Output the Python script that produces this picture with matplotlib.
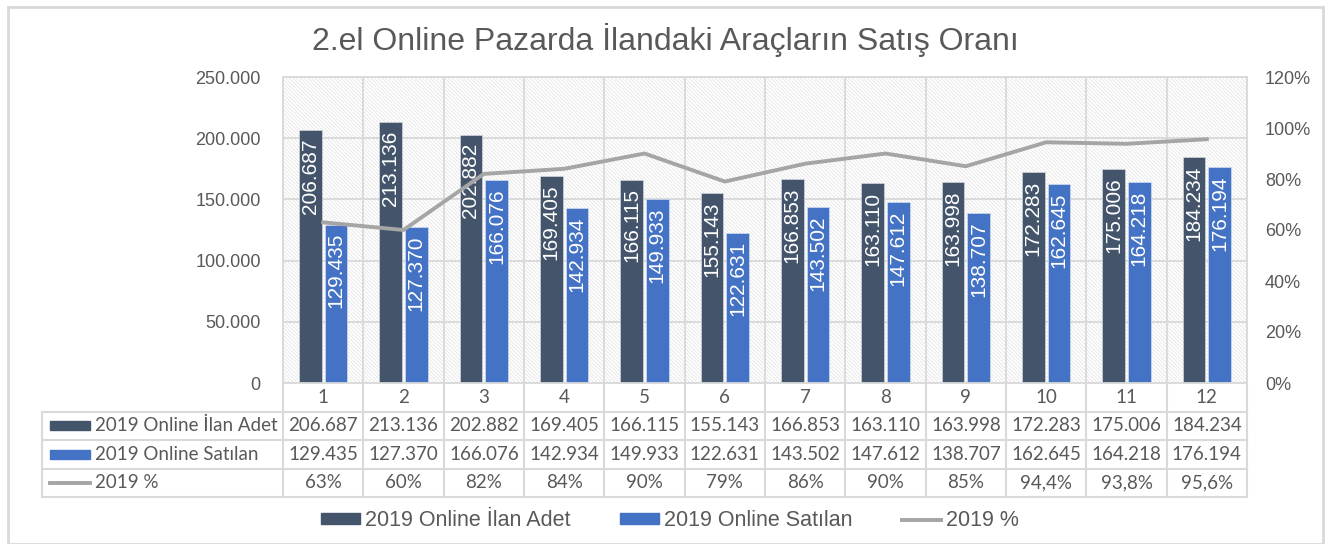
import matplotlib
matplotlib.use("Agg")
import matplotlib.pyplot as plt
from matplotlib.patches import Rectangle, Patch
from matplotlib.lines import Line2D

# ---- data ----
months = ["1", "2", "3", "4", "5", "6", "7", "8", "9", "10", "11", "12"]
ilan_adet = [206687, 213136, 202882, 169405, 166115, 155143, 166853, 163110, 163998, 172283, 175006, 184234]
satilan = [129435, 127370, 166076, 142934, 149933, 122631, 143502, 147612, 138707, 162645, 164218, 176194]
oran = [63, 60, 82, 84, 90, 79, 86, 90, 85, 94.4, 93.8, 95.6]
series_names = ["2019 Online İlan Adet", "2019 Online Satılan", "2019 %"]
title = "2.el Online Pazarda İlandaki Araçların Satış Oranı"
left_ticks = [0, 50000, 100000, 150000, 200000, 250000]
right_ticks = [0, 20, 40, 60, 80, 100, 120]

C_DARK = "#44546A"
C_BLUE = "#4472C4"
C_LINE = "#A5A5A5"
C_TEXT = "#595959"
C_GRID = "#D9D9D9"

plt.rcParams["font.family"] = ["Liberation Sans", "DejaVu Sans"]
plt.rcParams["hatch.color"] = "#E0E0E0"
plt.rcParams["hatch.linewidth"] = 0.5

W, H = 1327, 544
fig = plt.figure(figsize=(W / 100, H / 100), dpi=100)

# outer frame
fig.patches.append(Rectangle((8 / W, 0), (1323 - 8) / W, 1 - 7 / H, transform=fig.transFigure,
                             fill=False, edgecolor=C_GRID, lw=2))


def fmt_num(v):
    return f"{v:,.0f}".replace(",", ".")


def fmt_pct(v):
    if float(v).is_integer():
        return f"{int(v)}%"
    return f"{v:.1f}".replace(".", ",") + "%"


x0, x1, ytop, ybot = 283, 1247, 77, 383
ax = fig.add_axes([x0 / W, 1 - ybot / H, (x1 - x0) / W, (ybot - ytop) / H])
n = len(months)
xs = list(range(n))
ax.set_xlim(-0.5, n - 0.5)
ax.set_ylim(0, 250000)

# hatched background
bg = Rectangle((0, 0), 1, 1, transform=ax.transAxes, facecolor="white", edgecolor="#E0E0E0",
               hatch="\\" * 9, lw=0, zorder=0)
ax.add_patch(bg)
ax.patch.set_visible(False)

for y in left_ticks[1:]:
    ax.axhline(y, color=C_GRID, lw=1.3, zorder=1)
for b in range(n + 1):
    ax.axvline(b - 0.5, color=C_GRID, lw=1.3, zorder=1)

bw = 0.28
off = 0.16
ax.bar([x - off for x in xs], ilan_adet, width=bw, color=C_DARK, edgecolor="#DDE2EA", lw=0.4, zorder=2)
ax.bar([x + off for x in xs], satilan, width=bw, color=C_BLUE, edgecolor="#DDE6F5", lw=0.4, zorder=2)

for x, v in zip(xs, ilan_adet):
    ax.annotate(fmt_num(v), (x - off, v), xytext=(0, -6), textcoords="offset points",
                rotation=90, ha="center", va="top", color="white", fontsize=15, zorder=3)
for x, v in zip(xs, satilan):
    ax.annotate(fmt_num(v), (x + off, v), xytext=(0, -6), textcoords="offset points",
                rotation=90, ha="center", va="top", color="white", fontsize=15, zorder=3)

ax.set_xticks([])
ax.set_yticks(left_ticks)
ax.set_yticklabels([fmt_num(v) for v in left_ticks])
ax.tick_params(axis="y", length=0, pad=16, labelsize=13, labelcolor=C_TEXT)
for s in ax.spines.values():
    s.set_color(C_GRID)
    s.set_linewidth(1.3)

ax2 = ax.twinx()
ax2.set_ylim(0, 120)
ax2.plot(xs, oran, color=C_LINE, lw=2.8, zorder=4, solid_joinstyle="round")
ax2.set_yticks(right_ticks)
ax2.set_yticklabels([f"{v}%" for v in right_ticks])
ax2.tick_params(axis="y", length=0, pad=13, labelsize=13, labelcolor=C_TEXT)
for s in ax2.spines.values():
    s.set_visible(False)

# ---- data table ----
tx0, tyt, tyb = 42, 383, 497
tax = fig.add_axes([tx0 / W, 1 - tyb / H, (x1 - tx0) / W, (tyb - tyt) / H])
lab_w = (x0 - tx0) / ((x1 - x0) / n)
tax.set_xlim(-0.5 - lab_w, n - 0.5)
tax.set_ylim(4, 0)
tax.axis("off")
L = -0.5 - lab_w
R = n - 0.5
for y in [1, 2, 3, 4]:
    tax.plot([L, R], [y, y], color=C_GRID, lw=1.5, clip_on=False)
tax.plot([L, L], [1, 4], color=C_GRID, lw=1.5, clip_on=False)
for b in range(n + 1):
    tax.plot([b - 0.5, b - 0.5], [0, 4], color=C_GRID, lw=1.5, clip_on=False)

tfont = dict(family=["Lato", "DejaVu Sans"], fontsize=13.5, color=C_TEXT)
for i, m in enumerate(months):
    tax.text(i, 0.5, m, ha="center", va="center", **tfont)
    tax.text(i, 1.5, fmt_num(ilan_adet[i]), ha="center", va="center", **tfont)
    tax.text(i, 2.5, fmt_num(satilan[i]), ha="center", va="center", **tfont)
    tax.text(i, 3.5, fmt_pct(oran[i]), ha="center", va="center", **tfont)

px = (x1 - x0) / n
sx0 = L + 8 / px
sx1 = L + 48 / px
tax.add_patch(Rectangle((sx0, 1.5 - 0.15), sx1 - sx0, 0.3, color=C_DARK))
tax.add_patch(Rectangle((sx0, 2.5 - 0.15), sx1 - sx0, 0.3, color=C_BLUE))
tax.plot([sx0, sx1], [3.5, 3.5], color=C_LINE, lw=2.8)
for r, name in enumerate(series_names):
    tax.text(L + 53 / px, 1.5 + r, name, ha="left", va="center", **tfont)

# title
fig.text(665 / W, 1 - 40 / H, title, ha="center", va="center", fontsize=23, color=C_TEXT)

# legend
handles = [Patch(color=C_DARK), Patch(color=C_BLUE), Line2D([], [], color=C_LINE, lw=2.8)]
fig.legend(handles, series_names, loc="center", bbox_to_anchor=(670 / W, 1 - 521 / H), ncol=3,
           frameon=False, fontsize=15.5, labelcolor=C_TEXT, handlelength=1.8, handleheight=0.42,
           handletextpad=0.23, columnspacing=2.3)

fig.savefig("out.png", dpi=100)
